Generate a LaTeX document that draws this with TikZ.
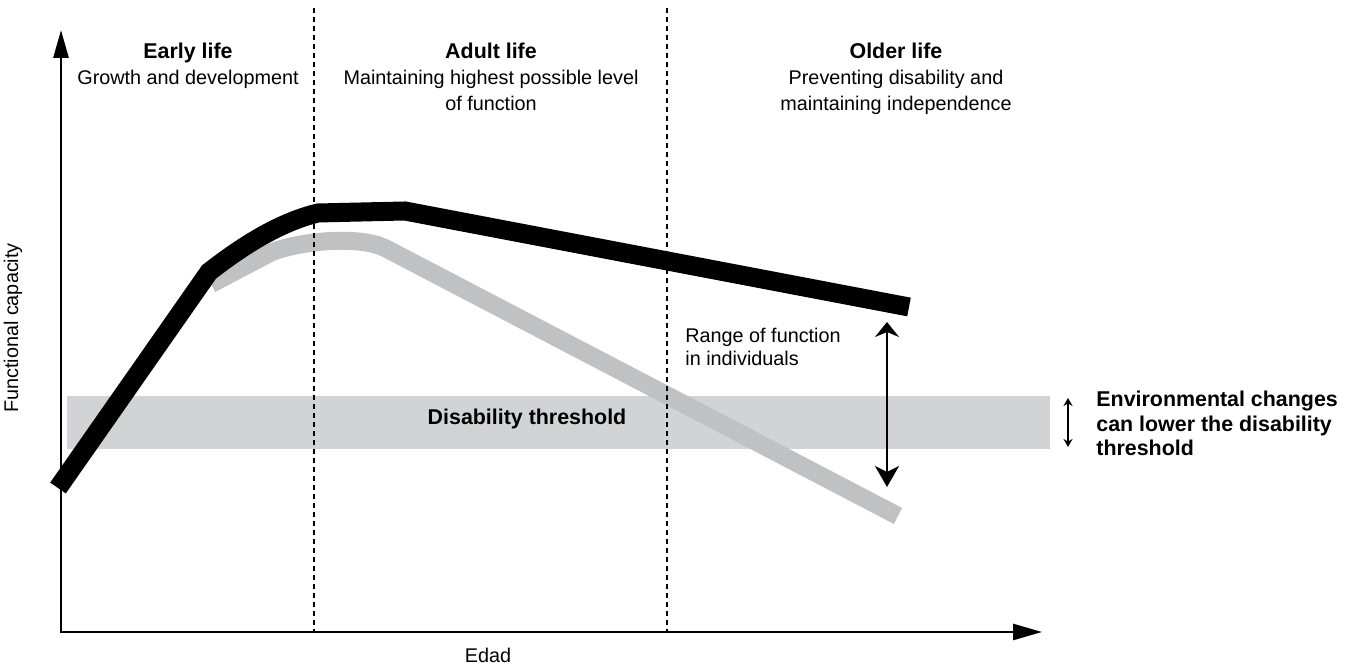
\documentclass[tikz,border=0pt]{standalone}
\usepackage{fontspec}
\setmainfont{Liberation Sans}
\usetikzlibrary{arrows.meta}
\definecolor{bandgray}{HTML}{D1D3D4}
\definecolor{linegray}{HTML}{BFC1C3}
\newcommand{\regfont}{\fontsize{9.9}{13}\selectfont}
\newcommand{\boldfont}{\fontsize{10.7}{13}\selectfont\bfseries}
\begin{document}
\begin{tikzpicture}[x=0.5pt,y=0.5pt,
  axisline/.style={line width=1.35pt},
  stageline/.style={line width=1.2pt,dash pattern=on 2.6pt off 1.9pt},
  heading/.style={align=center,anchor=base,inner sep=0pt,font=\regfont},
  note/.style={align=left,anchor=base west,inner sep=0pt,font=\fontsize{9.9}{11.5}\selectfont}]
\useasboundingbox (0,0) rectangle (1347,667);
% threshold band
\fill [bandgray] (67,218) rectangle (1050,271);
\node [font=\boldfont] (band) at (527,248) {Disability threshold};
% lower curve
\draw [linegray, line width=9pt] (211,383) -- (272,415)
  .. controls (305,427) and (360,431) .. (385,419) -- (898,151);
% stage limits
\coordinate (stagea top) at (314,659);
\coordinate (stagea bot) at (314,35);
\coordinate (stageb top) at (667,659);
\coordinate (stageb bot) at (667,35);
\draw [stageline] (stagea top) -- (stagea bot);
\draw [stageline] (stageb top) -- (stageb bot);
% upper curve
\draw [line width=9.5pt] (58,179) -- (209,395)
  .. controls (250,427) and (285,446) .. (318,454) -- (405,456) -- (909,360);
% axes
\coordinate (origin) at (61,35);
\coordinate (ytip) at (61,637);
\coordinate (xtip) at (1042,35);
\draw [axisline, {Triangle[length=14pt,width=7.5pt]}-{Triangle[length=14.5pt,width=8pt]}]
  (ytip) -- (origin) -- (xtip);
\node [font=\regfont] (xlabel) at (488,12) {Edad};
\node [font=\regfont, rotate=90] (ylabel) at (13,339) {Functional capacity};
% stages (base = last line)
\node [heading] (early) at (188,582) {{\boldfont Early life}\\Growth and development};
\node [heading] (adult) at (491,556) {{\boldfont Adult life}\\Maintaining highest possible level\\of function};
\node [heading] (older) at (896,556) {{\boldfont Older life}\\Preventing disability and\\maintaining independence};
% range of function
\coordinate (range top) at (887,345);
\coordinate (range bot) at (887,180);
\draw [line width=1.2pt, {Stealth[length=7.5pt,width=12pt,inset=2.5pt]}-{Stealth[length=10.5pt,width=12pt,inset=3pt]}]
  (range top) -- (range bot);
\node [note] (range) at (685,301) {Range of function\\in individuals};
% environment
\coordinate (env top) at (1068,269);
\coordinate (env bot) at (1068,220);
\draw [line width=0.8pt, {Stealth[length=4pt,width=4.5pt]}-{Stealth[length=4pt,width=4.5pt]}]
  (env top) -- (env bot);
\node [note, font=\fontsize{10.7}{12.25}\selectfont\bfseries] (env) at (1096,211) {Environmental changes\\can lower the disability\\threshold};
\end{tikzpicture}
\end{document}
